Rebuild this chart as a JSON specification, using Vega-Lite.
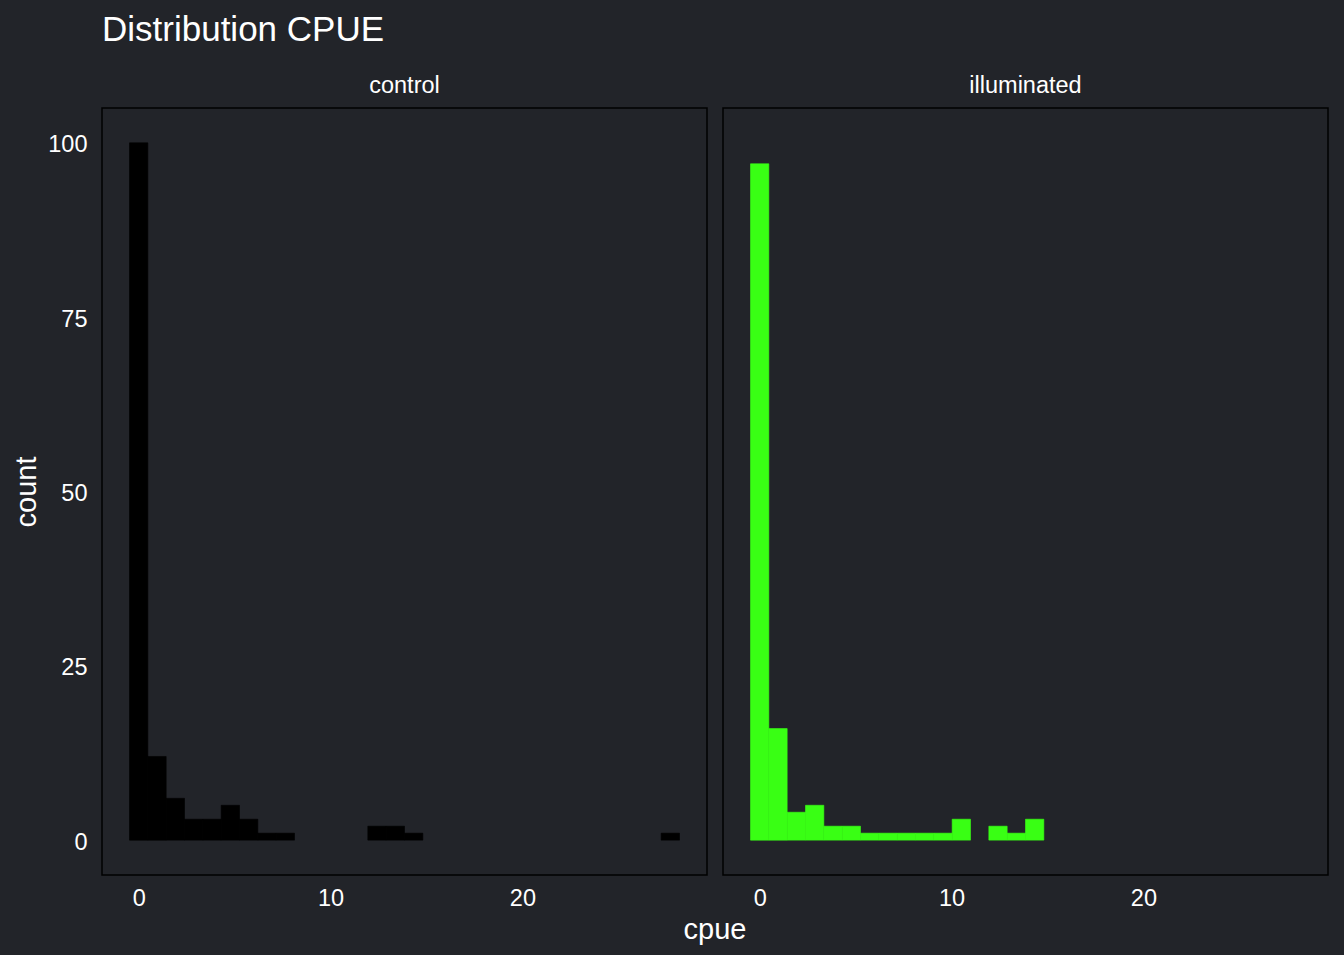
{
  "$schema": "https://vega.github.io/schema/vega-lite/v6.json",
  "background": "#222429",
  "padding": {"left": 12, "top": 12, "right": 16, "bottom": 10},
  "title": {"text": "Distribution CPUE", "anchor": "start", "frame": "group", "fontSize": 35, "font": "Liberation Sans", "fontWeight": "normal", "color": "#ffffff", "offset": 26},
  "data": {"values": [
    {"panel": "control", "x0": -0.4778, "x1": 0.4778, "count": 100},
    {"panel": "control", "x0": 0.4778, "x1": 1.4334, "count": 12},
    {"panel": "control", "x0": 1.4334, "x1": 2.3890, "count": 6},
    {"panel": "control", "x0": 2.3890, "x1": 3.3446, "count": 3},
    {"panel": "control", "x0": 3.3446, "x1": 4.3002, "count": 3},
    {"panel": "control", "x0": 4.3002, "x1": 5.2558, "count": 5},
    {"panel": "control", "x0": 5.2558, "x1": 6.2114, "count": 3},
    {"panel": "control", "x0": 6.2114, "x1": 7.1670, "count": 1},
    {"panel": "control", "x0": 7.1670, "x1": 8.1226, "count": 1},
    {"panel": "control", "x0": 11.9450, "x1": 12.9006, "count": 2},
    {"panel": "control", "x0": 12.9006, "x1": 13.8562, "count": 2},
    {"panel": "control", "x0": 13.8562, "x1": 14.8118, "count": 1},
    {"panel": "control", "x0": 27.2346, "x1": 28.1902, "count": 1},
    {"panel": "illuminated", "x0": -0.4778, "x1": 0.4778, "count": 97},
    {"panel": "illuminated", "x0": 0.4778, "x1": 1.4334, "count": 16},
    {"panel": "illuminated", "x0": 1.4334, "x1": 2.3890, "count": 4},
    {"panel": "illuminated", "x0": 2.3890, "x1": 3.3446, "count": 5},
    {"panel": "illuminated", "x0": 3.3446, "x1": 4.3002, "count": 2},
    {"panel": "illuminated", "x0": 4.3002, "x1": 5.2558, "count": 2},
    {"panel": "illuminated", "x0": 5.2558, "x1": 6.2114, "count": 1},
    {"panel": "illuminated", "x0": 6.2114, "x1": 7.1670, "count": 1},
    {"panel": "illuminated", "x0": 7.1670, "x1": 8.1226, "count": 1},
    {"panel": "illuminated", "x0": 8.1226, "x1": 9.0782, "count": 1},
    {"panel": "illuminated", "x0": 9.0782, "x1": 10.0338, "count": 1},
    {"panel": "illuminated", "x0": 10.0338, "x1": 10.9894, "count": 3},
    {"panel": "illuminated", "x0": 11.9450, "x1": 12.9006, "count": 2},
    {"panel": "illuminated", "x0": 12.9006, "x1": 13.8562, "count": 1},
    {"panel": "illuminated", "x0": 13.8562, "x1": 14.8118, "count": 3}
  ]},
  "facet": {
    "column": {
      "field": "panel", "type": "nominal",
      "header": {
        "title": "cpue", "titleOrient": "bottom", "titleFontSize": 29, "titleColor": "#ffffff", "titleFont": "Liberation Sans", "titleFontWeight": "normal", "titlePadding": -4,
        "labelOrient": "top", "labelFontSize": 23.5, "labelColor": "#ffffff", "labelFont": "Liberation Sans", "labelPadding": 10
      }
    }
  },
  "spacing": 14,
  "spec": {
    "width": 605,
    "height": 767,
    "mark": {"type": "bar", "strokeWidth": 0.6},
    "encoding": {
      "x": {"field": "x0", "type": "quantitative", "scale": {"domain": [-1.9112, 29.6236], "nice": false, "zero": false},
        "axis": {"title": null, "values": [0, 10, 20], "labelPadding": 10}},
      "x2": {"field": "x1"},
      "y": {"field": "count", "type": "quantitative", "scale": {"domain": [-5, 105], "nice": false, "zero": false},
        "axis": {"title": "count", "values": [0, 25, 50, 75, 100], "labelPadding": 14, "labelOffset": 2, "titlePadding": 6}},
      "y2": {"datum": 0},
      "color": {"field": "panel", "type": "nominal", "scale": {"domain": ["control", "illuminated"], "range": ["#000000", "#39FF14"]}, "legend": null},
      "stroke": {"field": "panel", "type": "nominal", "scale": {"domain": ["control", "illuminated"], "range": ["#000000", "#39FF14"]}, "legend": null}
    }
  },
  "config": {
    "font": "Liberation Sans",
    "view": {"stroke": "#000000", "strokeWidth": 1.5, "fill": "#222429"},
    "axis": {"grid": false, "domain": false, "ticks": false, "tickSize": 0, "labelFontSize": 23.5, "labelColor": "#ffffff", "labelFont": "Liberation Sans", "titleFontSize": 29, "titleColor": "#ffffff", "titleFont": "Liberation Sans", "titleFontWeight": "normal"}
  }
}
